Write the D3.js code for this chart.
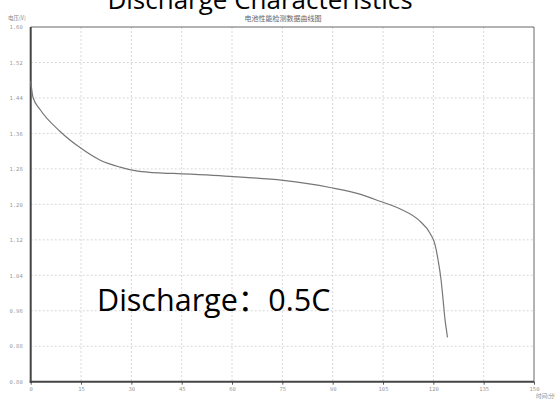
<!DOCTYPE html>
<html>
<head>
<meta charset="utf-8">
<script src="https://cdn.jsdelivr.net/npm/d3@7"></script>
<style>
  html, body { margin: 0; padding: 0; background: #fff; }
  svg { display: block; }
</style>
</head>
<body>
<div id="chart"></div>
<script>
// Datos (minutos, voltios)
const timeMin = [0, 0.7, 2.8, 8.7, 14.7, 20.6, 26.6, 31.1, 35.5, 41.5, 59.4, 75.2, 89.2, 98.1, 104.1, 110.0, 116.0, 119.0, 120.5, 121.4, 122.3, 122.9, 123.5, 124.1, 124.2];
const voltage = [1.478, 1.441, 1.414, 1.365, 1.328, 1.300, 1.284, 1.276, 1.272, 1.270, 1.263, 1.254, 1.238, 1.223, 1.207, 1.190, 1.162, 1.135, 1.109, 1.075, 1.030, 0.985, 0.939, 0.906, 0.900];
const xTicks = [0, 15, 30, 45, 60, 75, 90, 105, 120, 135, 150];
const yTicks = [0.80, 0.88, 0.96, 1.04, 1.12, 1.20, 1.28, 1.36, 1.44, 1.52, 1.60];

const W = 555, H = 402;
const m = { l: 30.7, r: 534, t: 27, b: 381.7 };

const svg = d3.select('#chart').append('svg')
  .attr('width', W).attr('height', H);

const x = d3.scaleLinear().domain([0, 150]).range([m.l, m.r]);
const y = d3.scaleLinear().domain([0.8, 1.6]).range([m.b, m.t]);

// Rejilla punteada
svg.append('g').selectAll('line').data(xTicks.slice(1, -1)).join('line')
  .attr('x1', d => x(d)).attr('x2', d => x(d))
  .attr('y1', m.t).attr('y2', m.b)
  .attr('stroke', '#d8d8d8').attr('stroke-dasharray', '2,2');
svg.append('g').selectAll('line').data(yTicks.slice(1, -1)).join('line')
  .attr('x1', m.l).attr('x2', m.r)
  .attr('y1', d => y(d)).attr('y2', d => y(d))
  .attr('stroke', '#d8d8d8').attr('stroke-dasharray', '2,2');

// Marco
svg.append('line').attr('x1', m.l).attr('x2', m.r).attr('y1', m.t).attr('y2', m.t)
  .attr('stroke', '#666').attr('stroke-width', 1);
svg.append('line').attr('x1', m.r).attr('x2', m.r).attr('y1', m.t).attr('y2', m.b)
  .attr('stroke', '#666').attr('stroke-width', 1);

// Ejes
const xAxis = d3.axisBottom(x).tickValues(xTicks).tickSize(3).tickFormat(d => d);
const gx = svg.append('g').attr('transform', `translate(0,${m.b})`).call(xAxis);
gx.select('.domain').remove();
gx.selectAll('line').attr('stroke', '#555');
gx.selectAll('text').attr('fill', '#999').attr('font-size', 5.5)
  .attr('font-family', 'DejaVu Sans Mono, monospace').attr('dy', '0.6em');

const yAxis = d3.axisLeft(y).tickValues(yTicks).tickSize(0).tickFormat(d3.format('.2f'));
const gy = svg.append('g').attr('transform', `translate(${m.l},0)`).call(yAxis);
gy.select('.domain').remove();
gy.selectAll('text').attr('fill', '#999').attr('font-size', 5.5)
  .attr('font-family', 'DejaVu Sans Mono, monospace').attr('x', -8);

svg.append('line').attr('x1', m.l).attr('x2', m.l).attr('y1', m.t).attr('y2', m.b + 1)
  .attr('stroke', '#444').attr('stroke-width', 2);
svg.append('line').attr('x1', m.l - 1).attr('x2', m.r).attr('y1', m.b).attr('y2', m.b)
  .attr('stroke', '#444').attr('stroke-width', 2);

// Curva de descarga
const line = d3.line().x((d, i) => x(timeMin[i])).y(d => y(d)).curve(d3.curveMonotoneX);
svg.append('path').datum(voltage)
  .attr('d', line)
  .attr('fill', 'none')
  .attr('stroke', '#777')
  .attr('stroke-width', 1.2);

// Textos
svg.append('text').attr('x', 260).attr('y', 9).attr('text-anchor', 'middle')
  .attr('font-family', 'Open Sans, sans-serif').attr('font-size', 26).attr('fill', '#000')
  .text('Discharge Characteristics');
svg.append('text').attr('x', 283).attr('y', 21).attr('text-anchor', 'middle')
  .attr('font-family', 'Noto Sans CJK SC').attr('font-size', 7).attr('fill', '#666')
  .text('电池性能检测数据曲线图');
svg.append('text').attr('x', 8).attr('y', 20)
  .attr('font-family', 'Noto Sans CJK SC').attr('font-size', 5.5).attr('fill', '#888')
  .text('电压(V)');
svg.append('text').attr('x', 536).attr('y', 398)
  .attr('font-family', 'Noto Sans CJK SC').attr('font-size', 5.5).attr('fill', '#888')
  .text('时间(分钟)');
svg.append('text').attr('x', 97).attr('y', 311)
  .attr('font-family', 'Open Sans, Noto Sans CJK SC, sans-serif').attr('font-size', 30.5).attr('fill', '#000')
  .text('Discharge：0.5C');
</script>
</body>
</html>
